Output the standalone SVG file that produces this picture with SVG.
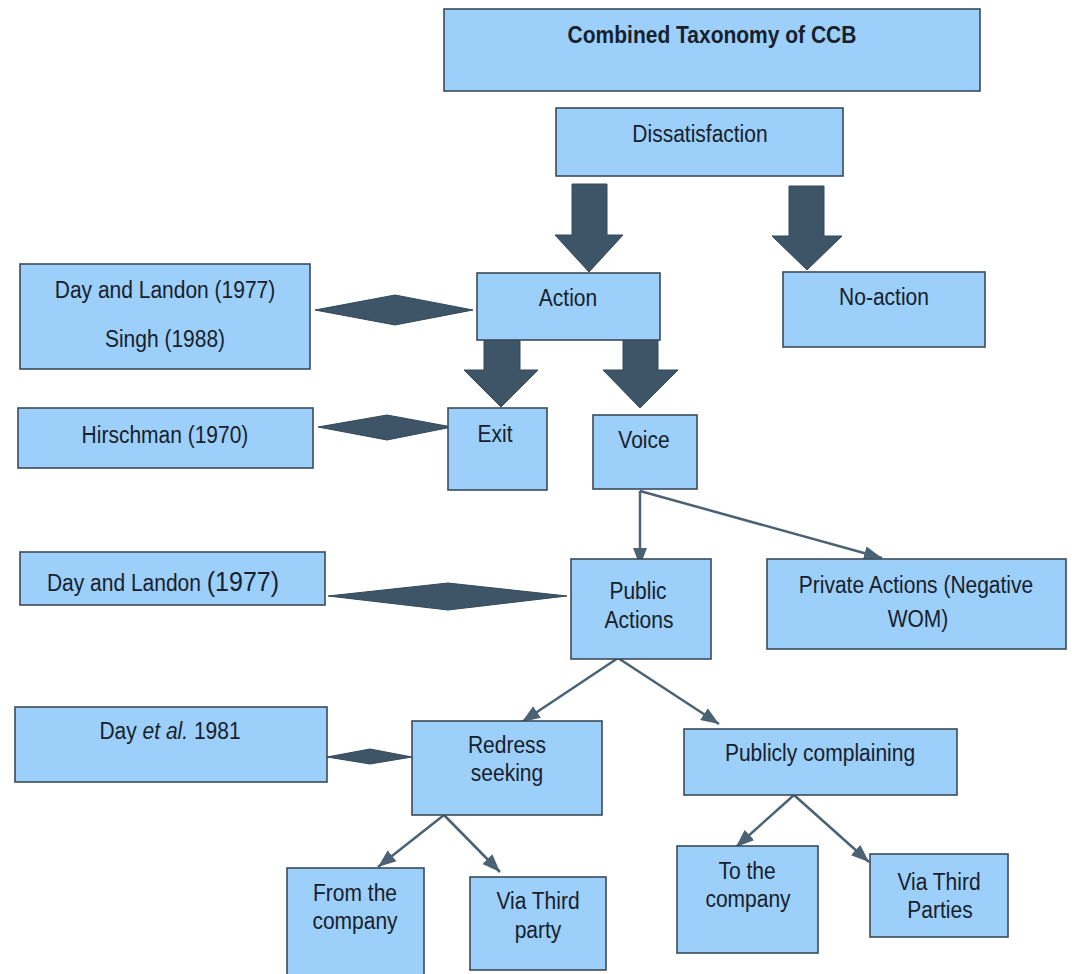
<svg xmlns="http://www.w3.org/2000/svg" width="1072" height="974" viewBox="0 0 1072 974">
<defs>
<style>
.box{fill:#9dcffb;stroke:#3b4a58;stroke-width:1.6}
.t{font-family:"Liberation Sans",Arial,sans-serif;font-size:21px;fill:#17212b;text-anchor:middle;transform-box:fill-box;transform-origin:50% 50%;transform:scaleY(1.14)}
.b{font-weight:bold}
.big{fill:#3e5467;stroke:#34495a;stroke-width:1}
.dia{fill:#3e5467;stroke:#34495a;stroke-width:1}
.ln{stroke:#4a6273;stroke-width:2.5;fill:none;marker-end:url(#ah)}
</style>
<marker id="ah" markerUnits="userSpaceOnUse" markerWidth="20" markerHeight="16" refX="18" refY="8" orient="auto">
<path d="M0,1 L18,8 L0,15 Z" fill="#4a6273"/>
</marker>
</defs>
<rect width="1072" height="974" fill="#ffffff"/>

<g id="connectors">
<polygon class="big" points="572,184 607,184 607,235 623,235 589,272 555,235 572,235"/>
<polygon class="big" points="789,186 824,186 824,236 842,236 807,270 772,236 789,236"/>
<polygon class="big" points="484,340 520,340 520,370 538,370 501,407 464,370 484,370"/>
<polygon class="big" points="623,340 658,340 658,370 678,370 640,408 603,370 623,370"/>
<polygon class="dia" points="315,310 395,295 473,310 395,325"/>
<polygon class="dia" points="318,427 387,415 452,427 387,440"/>
<polygon class="dia" points="328,596 448,583 567,596 448,610"/>
<polygon class="dia" points="327,757 370,749 412,757 370,764"/>
<line class="ln" x1="640" y1="491" x2="640" y2="566"/>
<line class="ln" x1="640" y1="491" x2="882" y2="558"/>
<line class="ln" x1="618" y1="658" x2="522" y2="722"/>
<line class="ln" x1="618" y1="658" x2="719" y2="724"/>
<line class="ln" x1="444" y1="815" x2="378" y2="867"/>
<line class="ln" x1="444" y1="815" x2="500" y2="872"/>
<line class="ln" x1="794" y1="795" x2="736" y2="847"/>
<line class="ln" x1="794" y1="795" x2="869" y2="862"/>
</g>

<g id="title"><rect class="box" x="444" y="9" width="536" height="82"/><text class="t b" x="712" y="42">Combined Taxonomy of CCB</text></g>
<g id="dissatisfaction"><rect class="box" x="556" y="108" width="287" height="68"/><text class="t" x="700" y="141">Dissatisfaction</text></g>
<g id="action"><rect class="box" x="477" y="273" width="183" height="67"/><text class="t" x="568" y="305">Action</text></g>
<g id="no-action"><rect class="box" x="783" y="272" width="202" height="75"/><text class="t" x="884" y="304">No-action</text></g>
<g id="day-landon-singh"><rect class="box" x="20" y="264" width="290" height="105"/><text class="t" x="165" y="297">Day and Landon (1977)</text><text class="t" x="165" y="346">Singh (1988)</text></g>
<g id="hirschman"><rect class="box" x="18" y="408" width="295" height="60"/><text class="t" x="165" y="442">Hirschman (1970)</text></g>
<g id="exit"><rect class="box" x="448" y="408" width="99" height="82"/><text class="t" x="495" y="441">Exit</text></g>
<g id="voice"><rect class="box" x="593" y="415" width="104" height="74"/><text class="t" x="644" y="447">Voice</text></g>
<g id="day-landon-1977"><rect class="box" x="20" y="552" width="305" height="53"/><text class="t" x="163" y="590">Day and Landon <tspan font-size="25">(1977)</tspan></text></g>
<g id="public-actions"><rect class="box" x="571" y="559" width="140" height="100"/><text class="t" x="638" y="598">Public</text><text class="t" x="639" y="627">Actions</text></g>
<g id="private-actions"><rect class="box" x="767" y="559" width="299" height="90"/><text class="t" x="916" y="592">Private Actions (Negative</text><text class="t" x="918" y="626">WOM)</text></g>
<g id="day-et-al"><rect class="box" x="15" y="707" width="312" height="75"/><text class="t" x="170" y="738">Day <tspan font-style="italic">et al.</tspan> 1981</text></g>
<g id="redress"><rect class="box" x="412" y="721" width="190" height="94"/><text class="t" x="507" y="752">Redress</text><text class="t" x="507" y="780">seeking</text></g>
<g id="publicly"><rect class="box" x="684" y="729" width="273" height="66"/><text class="t" x="820" y="760">Publicly complaining</text></g>
<g id="from-company"><rect class="box" x="287" y="868" width="137" height="110"/><text class="t" x="355" y="900">From the</text><text class="t" x="355" y="928">company</text></g>
<g id="via-third-party"><rect class="box" x="470" y="877" width="136" height="93"/><text class="t" x="538" y="908">Via Third</text><text class="t" x="538" y="937">party</text></g>
<g id="to-company"><rect class="box" x="677" y="846" width="141" height="107"/><text class="t" x="747" y="878">To the</text><text class="t" x="748" y="906">company</text></g>
<g id="via-third-parties"><rect class="box" x="870" y="854" width="138" height="83"/><text class="t" x="939" y="889">Via Third</text><text class="t" x="940" y="917">Parties</text></g>
</svg>
